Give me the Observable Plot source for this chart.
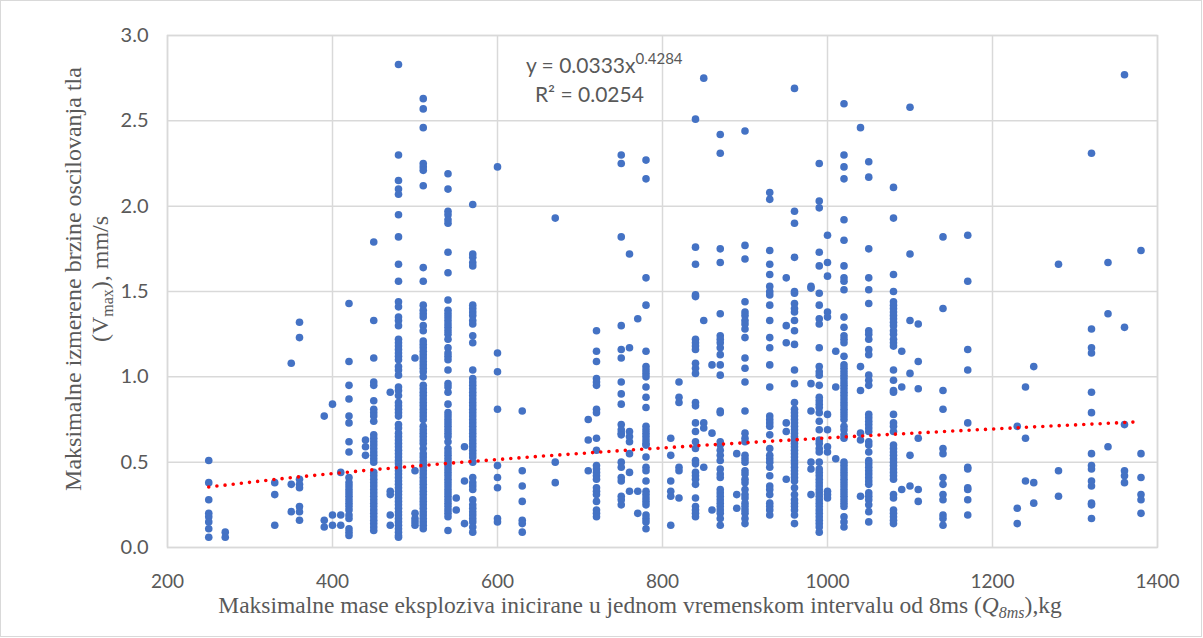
<!DOCTYPE html>
<html><head><meta charset="utf-8">
<script src="https://cdn.jsdelivr.net/npm/d3@7"></script>
<script src="https://cdn.jsdelivr.net/npm/@observablehq/plot@0.6"></script>
<style>
html,body{margin:0;padding:0;background:#fff;}
#chart{width:1203px;height:638px;position:relative;overflow:hidden;}
#chart svg{display:block;}
</style></head><body><div id="chart"></div>
<script>
// Q8ms (kg) columns of measurements
const massKg = [250,270,330,350,360,390,400,410,420,440,450,470,480,500,510,540,550,560,570,600,630,670,710,720,750,760,770,780,810,820,840,850,860,870,890,900,930,950,960,980,990,1000,1010,1020,1040,1050,1080,1090,1100,1110,1140,1170,1230,1240,1250,1280,1320,1340,1360,1380];
// Vmax (mm/s) measured at each mass
const vmaxByMass = [
 [0.51,0.38,0.28,0.20,0.18,0.15,0.11,0.06],
 [0.09,0.06],
 [0.38,0.31,0.13],
 [1.08,0.37,0.21],
 [1.32,1.23,0.40,0.37,0.35,0.24,0.21,0.16],
 [0.77,0.16,0.12],
 [0.84,0.19,0.13],
 [0.44,0.19,0.13],
 [1.43,1.09,0.95,0.87,0.77,0.73,0.62,0.56,0.41,0.38,0.36,0.34,0.32,0.30,0.28,0.26,0.24,0.22,0.19,0.17,0.11,0.09,0.07],
 [0.63,0.59,0.54],
 [1.79,1.33,1.11,0.97,0.95,0.86,0.81,0.79,0.77,0.74,0.66,0.64,0.62,0.60,0.58,0.56,0.54,0.52,0.50,0.44,0.42,0.40,0.38,0.36,0.34,0.32,0.30,0.28,0.26,0.24,0.22,0.20,0.18,0.16,0.14,0.12,0.10],
 [0.91,0.33,0.31,0.19,0.13],
 [2.83,2.30,2.15,2.10,2.07,1.95,1.82,1.66,1.56,1.44,1.41,1.35,1.33,1.30,1.22,1.20,1.18,1.16,1.14,1.12,1.10,1.06,1.04,1.01,0.94,0.92,0.89,0.85,0.83,0.81,0.79,0.77,0.72,0.70,0.67,0.65,0.63,0.61,0.59,0.57,0.55,0.53,0.51,0.49,0.47,0.45,0.43,0.41,0.39,0.37,0.35,0.33,0.31,0.29,0.27,0.25,0.23,0.21,0.19,0.17,0.15,0.13,0.11,0.09,0.07,0.06],
 [1.11,0.45,0.20,0.17,0.15,0.13],
 [2.63,2.57,2.46,2.25,2.23,2.21,2.12,1.64,1.56,1.42,1.39,1.37,1.35,1.30,1.27,1.21,1.19,1.17,1.15,1.13,1.11,1.09,1.07,1.05,1.03,1.00,0.95,0.93,0.91,0.89,0.87,0.85,0.83,0.81,0.79,0.77,0.75,0.71,0.69,0.67,0.65,0.63,0.61,0.58,0.55,0.53,0.51,0.49,0.47,0.45,0.43,0.41,0.39,0.37,0.35,0.33,0.31,0.29,0.27,0.25,0.23,0.21,0.19,0.17,0.15,0.13,0.11],
 [2.19,2.10,1.97,1.95,1.92,1.90,1.73,1.61,1.45,1.39,1.37,1.35,1.33,1.31,1.29,1.27,1.25,1.22,1.17,1.14,1.12,1.10,1.04,0.96,0.94,0.91,0.84,0.79,0.77,0.75,0.73,0.71,0.69,0.67,0.65,0.62,0.58,0.56,0.54,0.52,0.50,0.48,0.46,0.44,0.42,0.40,0.38,0.36,0.34,0.32,0.30,0.28,0.26,0.24,0.22,0.20,0.18,0.10],
 [0.29,0.22],
 [0.59,0.39,0.14],
 [2.01,1.72,1.70,1.67,1.65,1.42,1.40,1.38,1.36,1.33,1.31,1.24,1.20,1.04,0.99,0.97,0.95,0.93,0.91,0.89,0.87,0.85,0.83,0.81,0.79,0.77,0.75,0.73,0.71,0.69,0.67,0.65,0.63,0.61,0.59,0.57,0.55,0.53,0.50,0.41,0.38,0.36,0.34,0.28,0.25,0.23,0.21,0.19,0.17,0.15,0.12,0.09],
 [2.23,1.14,1.03,0.81,0.48,0.41,0.35,0.17,0.15],
 [0.80,0.45,0.36,0.27,0.16,0.14,0.09],
 [1.93,0.50,0.38],
 [0.75,0.63,0.45],
 [1.27,1.15,1.09,0.99,0.97,0.95,0.81,0.79,0.64,0.57,0.48,0.46,0.44,0.42,0.40,0.35,0.33,0.31,0.27,0.22,0.20,0.18],
 [2.30,2.25,1.82,1.30,1.16,1.11,0.97,0.90,0.84,0.72,0.69,0.67,0.66,0.50,0.47,0.41,0.39,0.30,0.28,0.25],
 [1.72,1.17,0.68,0.65,0.62,0.55,0.44,0.33],
 [1.34,0.33,0.20],
 [2.27,2.16,1.58,1.42,1.15,1.06,1.04,1.02,1.00,0.94,0.88,0.82,0.71,0.69,0.67,0.65,0.63,0.61,0.60,0.53,0.47,0.45,0.39,0.33,0.31,0.29,0.27,0.25,0.19,0.17,0.15,0.11],
 [0.64,0.54,0.39,0.33,0.30,0.13],
 [0.97,0.88,0.85,0.47,0.45,0.29],
 [2.51,1.76,1.66,1.48,1.47,1.22,1.20,1.18,1.16,1.08,1.05,1.02,0.85,0.83,0.73,0.68,0.62,0.58,0.51,0.49,0.44,0.42,0.40,0.37,0.29,0.24,0.22,0.20,0.18],
 [2.75,1.33,0.73,0.70,0.47],
 [1.07,0.67,0.22],
 [2.42,2.31,1.75,1.67,1.37,1.24,1.22,1.20,1.17,1.13,1.07,1.01,0.80,0.79,0.62,0.60,0.57,0.54,0.51,0.46,0.43,0.41,0.34,0.32,0.30,0.28,0.26,0.24,0.22,0.20,0.17,0.13],
 [0.55,0.31,0.23],
 [2.44,1.77,1.69,1.44,1.38,1.36,1.33,1.31,1.28,1.23,1.11,1.05,0.97,0.80,0.67,0.64,0.62,0.54,0.52,0.50,0.45,0.43,0.40,0.38,0.34,0.31,0.29,0.26,0.24,0.22,0.20,0.17,0.14],
 [2.08,2.04,1.74,1.66,1.60,1.53,1.50,1.48,1.42,1.33,1.23,1.17,1.07,0.94,0.77,0.75,0.73,0.71,0.66,0.58,0.54,0.52,0.50,0.47,0.42,0.36,0.34,0.31,0.26,0.24,0.22,0.19],
 [1.58,1.30,1.20,0.73,0.68,0.40],
 [2.69,1.97,1.90,1.70,1.50,1.49,1.43,1.40,1.38,1.33,1.27,1.19,1.04,0.96,0.85,0.81,0.79,0.77,0.75,0.73,0.71,0.69,0.67,0.65,0.63,0.61,0.59,0.57,0.55,0.53,0.51,0.49,0.47,0.45,0.43,0.41,0.39,0.35,0.31,0.28,0.26,0.24,0.22,0.19,0.14],
 [1.53,1.52,0.96,0.80,0.50,0.46,0.31],
 [2.25,2.03,1.99,1.73,1.65,1.49,1.42,1.34,1.31,1.17,1.06,1.03,1.01,0.95,0.88,0.86,0.84,0.82,0.79,0.74,0.69,0.63,0.61,0.58,0.56,0.50,0.46,0.44,0.42,0.40,0.38,0.36,0.34,0.32,0.30,0.28,0.26,0.24,0.22,0.20,0.18,0.16,0.14,0.12,0.09],
 [1.83,1.67,1.59,1.38,1.35,0.78,0.69,0.59,0.56,0.33,0.31,0.29],
 [1.15,0.94,0.52],
 [2.60,2.30,2.23,2.16,1.92,1.80,1.65,1.58,1.56,1.51,1.35,1.29,1.24,1.22,1.20,1.12,1.07,1.05,1.03,1.01,0.99,0.97,0.95,0.93,0.91,0.89,0.87,0.85,0.83,0.81,0.79,0.77,0.75,0.71,0.69,0.66,0.64,0.50,0.48,0.46,0.44,0.42,0.40,0.38,0.36,0.34,0.32,0.30,0.28,0.26,0.24,0.18,0.15,0.12],
 [2.46,1.06,0.92,0.67,0.63,0.30],
 [2.26,2.17,1.75,1.58,1.51,1.43,1.27,1.25,1.22,1.16,1.13,1.01,0.98,0.95,0.78,0.76,0.74,0.72,0.70,0.68,0.62,0.60,0.56,0.51,0.49,0.47,0.45,0.43,0.41,0.39,0.37,0.32,0.30,0.28,0.25,0.21,0.15],
 [2.11,1.93,1.60,1.50,1.44,1.42,1.40,1.38,1.36,1.34,1.32,1.30,1.27,1.25,1.22,1.20,1.18,1.04,0.98,0.92,0.91,0.78,0.73,0.71,0.68,0.60,0.58,0.56,0.54,0.52,0.50,0.48,0.46,0.44,0.42,0.40,0.31,0.29,0.22,0.20,0.18,0.16,0.14],
 [1.15,0.94,0.34],
 [2.58,1.72,1.33,1.02,0.54,0.36],
 [1.31,1.09,0.93,0.64,0.34,0.27],
 [1.82,1.40,0.92,0.81,0.58,0.55,0.41,0.37,0.31,0.28,0.19,0.17,0.13],
 [1.83,1.56,1.16,1.04,0.73,0.47,0.46,0.35,0.34,0.28,0.19],
 [0.71,0.23,0.14],
 [0.94,0.64,0.39],
 [1.06,0.38,0.26],
 [1.66,0.45,0.30],
 [2.31,1.28,1.17,1.14,0.91,0.79,0.55,0.48,0.46,0.39,0.36,0.26,0.25,0.17],
 [1.67,1.37,0.59],
 [2.77,1.29,0.72,0.45,0.42,0.38],
 [1.74,0.55,0.41,0.31,0.28,0.20]
];
const xTicks = [200,400,600,800,1000,1200,1400];
const yTicks = [0,0.5,1,1.5,2,2.5,3];
// Power trendline shown on the chart: y = 0.0333 x^0.4284, R² = 0.0254
const fitA = 0.0333, fitB = 0.4284;
const trendQ = [250,350,450,550,650,750,850,950,1050,1150,1250,1380];

const points = massKg.flatMap((q,i)=>vmaxByMass[i].map(v=>({q,v})));
const trend = trendQ.map(q=>({q, v: fitA*Math.pow(q,fitB)}));

const tickFont = "Lato, 'Open Sans', sans-serif";
const serif = "'Liberation Serif','DejaVu Serif',serif";

const plot = Plot.plot({
  width:1203, height:638,
  marginLeft:167, marginRight:46, marginTop:35, marginBottom:91,
  style:{fontFamily:tickFont, fontSize:"20px", color:"#595959", background:"#fff"},
  x:{domain:[200,1400], label:null},
  y:{domain:[0,3], label:null},
  marks:[
    Plot.gridX(xTicks,{stroke:"#d9d9d9", strokeOpacity:1, strokeWidth:1.5}),
    Plot.gridY(yTicks,{stroke:"#d9d9d9", strokeOpacity:1, strokeWidth:1.5}),
    Plot.frame({stroke:"#d9d9d9", strokeWidth:1.5}),
    Plot.axisX(xTicks,{tickSize:0, tickPadding:27, tickFormat:d=>String(d), fill:"#595959", fontSize:19, label:null}),
    Plot.axisY(yTicks,{tickSize:0, tickPadding:19, tickFormat:d3.format(".1f"), fill:"#595959", fontSize:20, label:null}),
    Plot.dot(points,{x:"q", y:"v", r:3.8, fill:"#4472C4", stroke:null}),
    Plot.line(trend,{x:"q", y:"v", stroke:"#ff0000", strokeWidth:3.6, strokeDasharray:"0 8.2", strokeLinecap:"round"})
  ]
});
document.getElementById("chart").appendChild(plot);

const svg = d3.select(plot);
const sx = plot.scale("x"), sy = plot.scale("y");

// trendline equation
const eq = svg.append("text").attr("x", sx.apply(730)).attr("y", sy.apply(2.78))
  .attr("text-anchor","middle").attr("font-family",tickFont).attr("font-size",21).attr("fill","#595959");
eq.append("tspan").text("y = 0.0333x");
eq.append("tspan").attr("font-size",15).attr("dy",-9).text("0.4284");
svg.append("text").attr("x", sx.apply(712)).attr("y", sy.apply(2.61))
  .attr("text-anchor","middle").attr("font-family",tickFont).attr("font-size",21).attr("fill","#595959")
  .text("R² = 0.0254");

// x axis title
const xt = svg.append("text").attr("x",640).attr("y",613).attr("text-anchor","middle")
  .attr("font-family",serif).attr("font-size",23.5).attr("fill","#595959");
xt.append("tspan").text("Maksimalne mase eksploziva inicirane u jednom vremenskom intervalu od 8ms (");
xt.append("tspan").attr("font-style","italic").text("Q");
xt.append("tspan").attr("font-style","italic").attr("font-size",16).attr("dy",5).text("8ms");
xt.append("tspan").attr("dy",-5).text("),kg");

// y axis title (two lines)
const yt = svg.append("g").attr("transform","translate(81,279) rotate(-90)")
  .attr("font-family",serif).attr("font-size",24).attr("fill","#595959").attr("text-anchor","middle");
yt.append("text").attr("x",0).attr("y",0).text("Maksimalne izmerene brzine oscilovanja tla");
const l2 = yt.append("text").attr("x",0).attr("y",27);
l2.append("tspan").text("(V");
l2.append("tspan").attr("font-size",16).attr("dy",5).text("max");
l2.append("tspan").attr("dy",-5).text("), mm/s");

// chart-area border
svg.append("rect").attr("x",0.5).attr("y",0.5).attr("width",1201).attr("height",636)
  .attr("fill","none").attr("stroke","#d9d9d9").attr("stroke-width",1);
</script>
</body></html>
